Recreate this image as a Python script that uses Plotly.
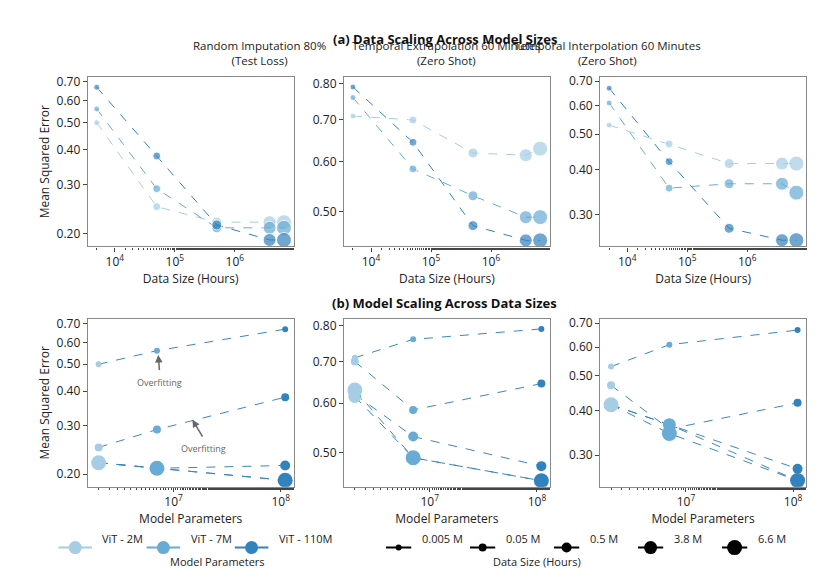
import math
import plotly.graph_objects as go
from plotly.subplots import make_subplots

data_sizes = [5e3, 5e4, 5e5, 3.8e6, 6.6e6]
data_labels = ["0.005 M", "0.05 M", "0.5 M", "3.8 M", "6.6 M"]
model_params = [2e6, 7e6, 1.1e8]
model_labels = ["ViT - 2M", "ViT - 7M", "ViT - 110M"]
colors = ["#a6cde3", "#68abd5", "#3282bd"]
sizes = [6, 8, 10, 13, 15]

titles = ["Random Imputation 80%<br>(Test Loss)",
          "Temporal Extrapolation 60 Minutes<br>(Zero Shot)",
          "Temporal Interpolation 60 Minutes<br>(Zero Shot)"]
# mse[task][model][data]
mse = [
    [[0.50, 0.25, 0.22, 0.22, 0.22],
     [0.56, 0.29, 0.21, 0.21, 0.21],
     [0.67, 0.38, 0.215, 0.19, 0.19]],
    [[0.71, 0.70, 0.62, 0.615, 0.63],
     [0.76, 0.585, 0.53, 0.49, 0.49],
     [0.79, 0.645, 0.475, 0.45, 0.45]],
    [[0.53, 0.47, 0.415, 0.415, 0.415],
     [0.61, 0.355, 0.365, 0.365, 0.345],
     [0.67, 0.42, 0.275, 0.255, 0.255]],
]
yticks = [[0.2, 0.3, 0.4, 0.5, 0.6, 0.7], [0.5, 0.6, 0.7, 0.8], [0.3, 0.4, 0.5, 0.6, 0.7]]
yranges = [[0.18, 0.73], [0.44, 0.82], [0.245, 0.72]]

fig = make_subplots(rows=2, cols=3)
xd = [[0.095, 0.34], [0.4, 0.645], [0.705, 0.95]]
yd = [[0.595, 0.888], [0.18, 0.47]]

for t in range(3):
    for m in range(3):
        fig.add_trace(go.Scatter(x=data_sizes, y=mse[t][m], mode="lines+markers",
                                 line=dict(color=colors[m], width=1, dash="dash"),
                                 marker=dict(color=colors[m], size=sizes), showlegend=False),
                      row=1, col=t + 1)
    for d in range(5):
        fig.add_trace(go.Scatter(x=model_params, y=[mse[t][m][d] for m in range(3)],
                                 mode="lines+markers",
                                 line=dict(color="#3a87c0", width=1, dash="dash"),
                                 marker=dict(color=colors, size=sizes[d]), showlegend=False),
                      row=2, col=t + 1)

ax = dict(showline=True, mirror=True, linecolor="#888", linewidth=1.2, showgrid=False,
          ticks="outside", tickcolor="#444", ticklen=4, zeroline=False,
          tickfont=dict(size=12, color="#222"))
for t in range(3):
    for r in range(2):
        i = r * 3 + t + 1
        s = "" if i == 1 else str(i)
        if r == 0:
            xr = [3.55, 6.98]; tv = [1e4, 1e5, 1e6]; tt = ["10<sup>4</sup>", "10<sup>5</sup>", "10<sup>6</sup>"]
            xt = "Data Size (Hours)"
        else:
            xr = [6.2, 8.12]; tv = [1e7, 1e8]; tt = ["10<sup>7</sup>", "10<sup>8</sup>"]
            xt = "Model Parameters"
        fig.layout["xaxis" + s].update(type="log", range=xr, tickvals=tv, ticktext=tt, domain=xd[t],
                                       minor=dict(ticks="outside", ticklen=2, tickcolor="#444"),
                                       title=dict(text=xt, font=dict(size=12, color="#222"), standoff=2), **ax)
        fig.layout["yaxis" + s].update(type="log", range=[math.log10(yranges[t][0]), math.log10(yranges[t][1])],
                                       tickvals=yticks[t], ticktext=["%.2f" % v for v in yticks[t]],
                                       domain=yd[r],
                                       title=dict(text="Mean Squared Error" if t == 0 else "",
                                                  font=dict(size=12, color="#222"), standoff=4), **ax)
    fig.add_annotation(text=titles[t], x=(xd[t][0] + xd[t][1]) / 2, y=0.9, xref="paper", yref="paper",
                       yanchor="bottom", showarrow=False, font=dict(size=11.5, color="#222"))

fig.add_annotation(text="<b>(a) Data Scaling Across Model Sizes</b>", x=0.52, y=0.972, xref="paper", yref="paper",
                   showarrow=False, font=dict(size=13, color="#111"))
fig.add_annotation(text="<b>(b) Model Scaling Across Data Sizes</b>", x=0.52, y=0.497, xref="paper", yref="paper",
                   showarrow=False, font=dict(size=13, color="#111"))

for (x, y, ax_, ay_) in [(7.2e6, 0.54, 7.4e6, 0.47), (1.5e7, 0.315, 1.9e7, 0.27)]:
    fig.add_annotation(x=math.log10(x), y=math.log10(y), xref="x4", yref="y4", text="",
                       ax=math.log10(ax_), ay=math.log10(ay_), axref="x4", ayref="y4",
                       showarrow=True, arrowhead=2, arrowcolor="#666", arrowwidth=1.5)
fig.add_annotation(x=math.log10(7.4e6), y=math.log10(0.46), xref="x4", yref="y4", text="Overfitting",
                   showarrow=False, font=dict(size=9, color="#666"), yanchor="top")
fig.add_annotation(x=math.log10(1.9e7), y=math.log10(0.265), xref="x4", yref="y4", text="Overfitting",
                   showarrow=False, font=dict(size=9, color="#666"), yanchor="top")

# legends (small overlay axis at the bottom only)
ly = 0.075
for m in range(3):
    x0 = 0.08 + m * 0.105
    fig.add_trace(go.Scatter(x=[x0 - 0.02, x0 + 0.02], y=[ly, ly], xaxis="x7", yaxis="y7", mode="lines",
                             line=dict(color=colors[m], width=2), showlegend=False))
    fig.add_trace(go.Scatter(x=[x0], y=[ly], xaxis="x7", yaxis="y7", mode="markers",
                             marker=dict(color=colors[m], size=13), showlegend=False))
    fig.add_annotation(text=model_labels[m], x=x0 + 0.03, y=ly, xref="paper", yref="paper", xanchor="left",
                       showarrow=False, font=dict(size=11, color="#222"))
fig.add_annotation(text="Model Parameters", x=0.19, y=0.035, xref="paper", yref="paper",
                   showarrow=False, font=dict(size=11, color="#222"))
for d in range(5):
    x0 = 0.465 + d * 0.1
    fig.add_trace(go.Scatter(x=[x0 - 0.015, x0 + 0.015], y=[ly, ly], xaxis="x7", yaxis="y7", mode="lines",
                             line=dict(color="black", width=2), showlegend=False))
    fig.add_trace(go.Scatter(x=[x0], y=[ly], xaxis="x7", yaxis="y7", mode="markers",
                             marker=dict(color="black", size=sizes[d]), showlegend=False))
    fig.add_annotation(text=data_labels[d], x=x0 + 0.025, y=ly, xref="paper", yref="paper", xanchor="left",
                       showarrow=False, font=dict(size=11, color="#222"))
fig.add_annotation(text="Data Size (Hours)", x=0.685, y=0.035, xref="paper", yref="paper",
                   showarrow=False, font=dict(size=11, color="#222"))
fig.update_layout(xaxis7=dict(domain=[0, 1], range=[0, 1], visible=False, anchor="y7", fixedrange=True),
                  yaxis7=dict(domain=[0.04, 0.11], range=[0.04, 0.11], visible=False, anchor="x7", fixedrange=True))

fig.update_layout(width=840, height=583, margin=dict(l=0, r=0, t=0, b=0),
                  plot_bgcolor="rgba(0,0,0,0)", paper_bgcolor="white",
                  font=dict(family="Open Sans", color="#222"))
fig.write_html("out.html")
